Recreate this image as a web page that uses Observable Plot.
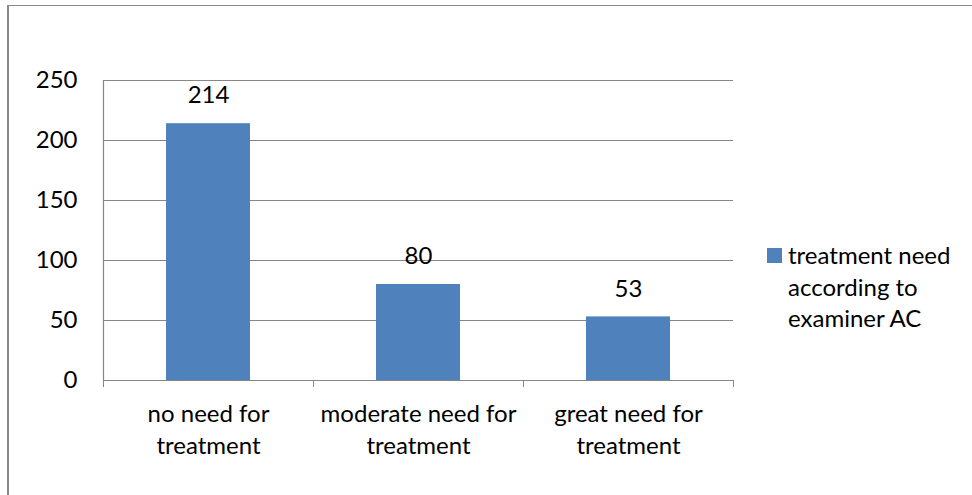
<!DOCTYPE html>
<html>
<head>
<meta charset="utf-8">
<script src="https://cdn.jsdelivr.net/npm/d3@7"></script>
<script src="https://cdn.jsdelivr.net/npm/@observablehq/plot@0.6"></script>
<style>
  html, body { margin: 0; padding: 0; background: #fff; }
  #wrap { position: relative; width: 972px; height: 495px; overflow: hidden; font-family: Lato, "Open Sans", sans-serif; }
  #frame { position: absolute; left: 7px; top: 5px; right: -10px; bottom: -10px;
           border-left: 2px solid #8a8a8a; border-top: 1.5px solid #8a8a8a; }
  #chart { position: absolute; left: 0; top: 0; }
  #legend-swatch { position: absolute; left: 767px; top: 248px; width: 15px; height: 15px; }
  #legend-text { position: absolute; left: 788px; top: 239px; width: 182px;
                 font-size: 24px; line-height: 31.5px; color: #000; }
</style>
</head>
<body>
<div id="wrap">
  <div id="frame"></div>
  <div id="chart"></div>
  <div id="legend-swatch"></div>
  <div id="legend-text"></div>
</div>
<script>
// Number of patients in each treatment-need category
const categories = ["no need for treatment", "moderate need for treatment", "great need for treatment"];
const counts = [214, 80, 53];
const yTicks = [0, 50, 100, 150, 200, 250];
const seriesName = "treatment need according to examiner AC";
const barColor = "#4F81BD";
const gridColor = "#868686";

const rows = categories.map((category, i) => ({i, category, count: counts[i]}));

const chart = Plot.plot({
  width: 972,
  height: 495,
  marginLeft: 103,
  marginRight: 239,
  marginTop: 80,
  marginBottom: 115,
  x: {domain: [0, categories.length], axis: null},
  y: {domain: [0, 250], axis: null},
  style: {fontFamily: "Lato, 'Open Sans', sans-serif", fontSize: "24px", color: "#000", background: "transparent", overflow: "visible"},
  marks: [
    // horizontal gridlines
    Plot.ruleY(yTicks.filter(t => t > 0), {stroke: gridColor, strokeWidth: 1.2}),
    // bars, centred in each category slot
    Plot.rectY(rows, {x1: d => d.i + 0.3, x2: d => d.i + 0.7, y1: 0, y2: "count", fill: barColor}),
    // axis lines
    Plot.ruleY([0], {stroke: gridColor, strokeWidth: 1.2}),
    Plot.ruleX([0], {y1: 0, y2: 250, stroke: gridColor, strokeWidth: 1.2}),
    // category boundary ticks
    Plot.axisX(d3.range(categories.length + 1), {tickSize: 7, tickFormat: () => "", stroke: gridColor, label: null}),
    // category labels
    Plot.axisX(categories.map((c, i) => i + 0.5), {
      tickSize: 0, tickPadding: 18, label: null, fill: "#000", fontSize: 24, lineHeight: 1.36,
      tickFormat: v => categories[Math.floor(v)].replace(" treatment", "\ntreatment")
    }),
    // value axis labels
    Plot.axisY(yTicks, {tickSize: 0, tickPadding: 26, label: null, fill: "#000", fontSize: 24}),
    // value labels above bars
    Plot.text(rows, {x: d => d.i + 0.5, y: "count", text: d => String(d.count), dy: -28, fill: "#000", fontSize: 24})
  ]
});
document.getElementById("chart").appendChild(chart);

document.getElementById("legend-swatch").style.background = barColor;
document.getElementById("legend-text").textContent = seriesName;
</script>
</body>
</html>
